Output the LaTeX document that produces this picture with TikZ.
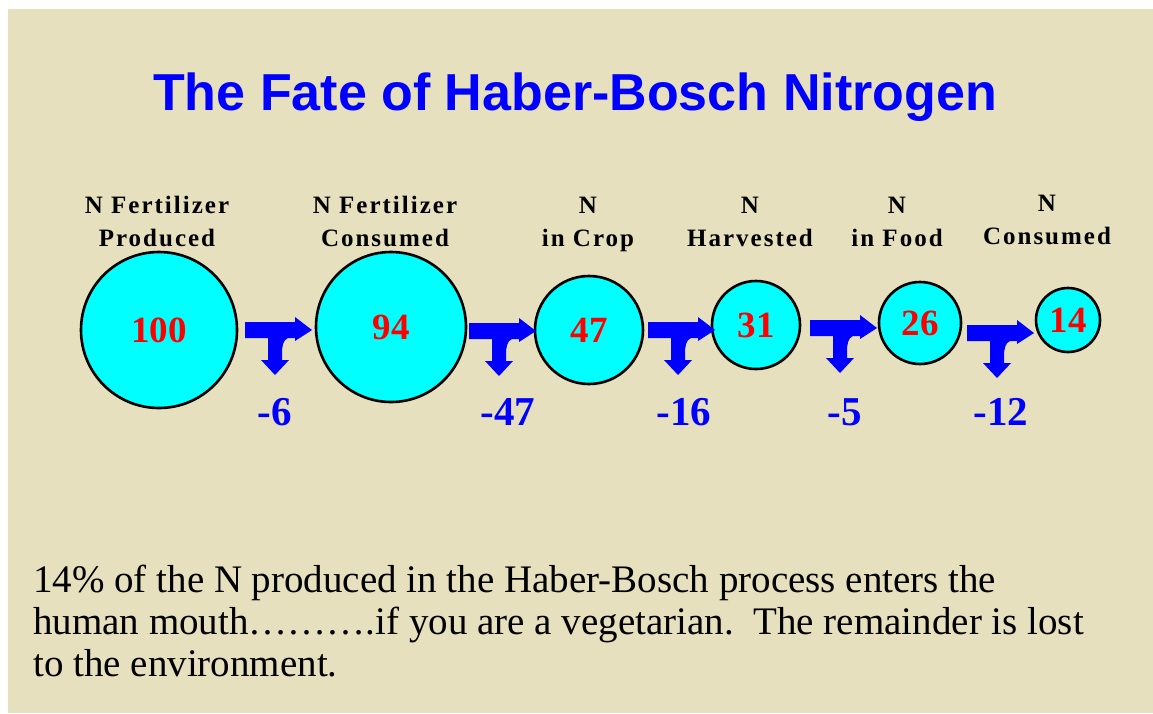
\documentclass[tikz,border=0pt]{standalone}
\usepackage{fontspec}
\setmainfont{Liberation Serif}
\setsansfont{Liberation Sans}
\usepackage{xcolor}
\usetikzlibrary{shapes,positioning,calc}

\definecolor{slidebg}{RGB}{230,224,190}
\definecolor{nblue}{RGB}{0,0,255}
\definecolor{nred}{RGB}{255,0,0}
\definecolor{pool}{RGB}{0,255,255}

\tikzset{
    splitarrow/.pic={
        \fill[nblue] (0,-8) -- (50,-8) -- (50,-13) -- (67,0) -- (50,11) -- (50,8) -- (43,8)
            .. controls (38,10) and (37,16) .. (37,24) -- (37,30) -- (44,30) -- (30,45)
            -- (16,30) -- (23,30) -- (23,8) -- (0,8) -- cycle;
    }
}

\begin{document}
\begin{tikzpicture}[
    x=1pt, y=-1pt,
    stock/.style={circle, draw=black, line width=2.6pt, fill=pool, minimum size=#1, inner sep=0pt, text=nred, font=\fontsize{37}{40}\selectfont\bfseries},
    head/.style={align=center, anchor=base, font=\fontsize{25}{33}\selectfont\bfseries\addfontfeature{LetterSpace=8}},
    loss/.style={anchor=base, text=nblue, font=\fontsize{41}{44}\selectfont\bfseries}
]
% Background
\fill[white] (0,0) rectangle (1153,713);
\fill[slidebg] (8,9) rectangle (1153,713);

% Title
\node[anchor=base, text=nblue, font=\sffamily\bfseries\fontsize{52}{60}\selectfont] (title) at (575,110) {The Fate of Haber-Bosch Nitrogen};

% Nitrogen pools
\node[stock=156pt] (produced) at (159,330) {100};
\node[stock=150pt] (fertcons) at (391,327) {94};
\node[stock=108pt] (crop) at (589,330) {47};
\node[stock=88pt] (harvest) at (756,325) {31};
\node[stock=82pt] (food) at (920,323) {26};
\node[stock=64pt] (eaten) at (1068,320) {14};

% Headings (base = last line)
\node[head] (hproduced) at (157,246) {N Fertilizer\\Produced};
\node[head] (hfertcons) at (385,246) {N Fertilizer\\Consumed};
\node[head] (hcrop) at (588,246) {N\\in Crop};
\node[head] (hharvest) at (750,246) {N\\Harvested};
\node[head] (hfood) at (897,246) {N\\in Food};
\node[head] (heaten) at (1047,244) {N\\Consumed};

% Split arrows
\pic at (245,330) {splitarrow};
\pic at (469,331) {splitarrow};
\pic at (648,330) {splitarrow};
\pic at (810,328) {splitarrow};
\pic at (967,333) {splitarrow};

% Losses
\node[loss] (loss1) at (275,425) {-6};
\node[loss] (loss2) at (508,425) {-47};
\node[loss] (loss3) at (684,425) {-16};
\node[loss] (loss4) at (845,425) {-5};
\node[loss] (loss5) at (1001,425) {-12};

% Note
\node[anchor=base west, align=left, inner sep=0pt, font=\fontsize{39}{42}\selectfont] (note) at (33,676)
    {14\% of the N produced in the Haber-Bosch process enters the\\
     human mouth\ldots\ldots\ldots.if you are a vegetarian.\ \ The remainder is lost\\
     to the environment.};
\end{tikzpicture}
\end{document}
